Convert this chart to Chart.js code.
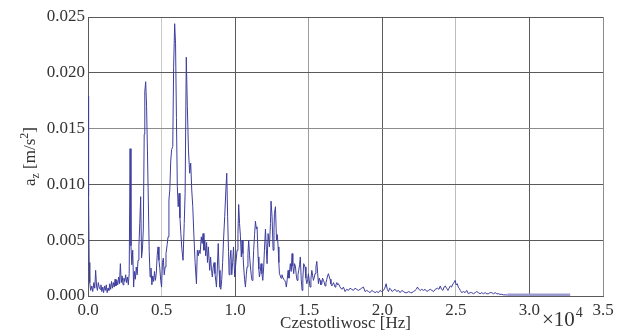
<!DOCTYPE html>
<html>
<head>
<meta charset="utf-8">
<script src="https://cdn.jsdelivr.net/npm/chart.js@4/dist/chart.umd.min.js"></script>
<style>
	html, body { margin: 0; padding: 0; background: #fff; }
	canvas { display: block; }
</style>
</head>
<body>
<canvas id="spectrum" width="624" height="336"></canvas>
<script>
// Acceleration spectrum a_z vs frequency (x in units of 10^4 Hz)

const xTicks = [0, 0.5, 1.0, 1.5, 2.0, 2.5, 3.0, 3.5];
const yTicks = [0, 0.005, 0.010, 0.015, 0.020, 0.025];
const xTitle = 'Czestotliwosc [Hz]';
const xMultiplier = ['×10', '4'];
const bandStart = 2.84; // above this the trace is a dense, flat band

// [frequency (×10^4 Hz), a_z (m/s^2)]
const spectrum = [
	[0.000, 0.0179], [0.004, 0.0090], [0.008, 0.0030], [0.012, 0.0012], [0.018, 0.0005],
	[0.026, 0.0009], [0.032, 0.0004], [0.040, 0.0012], [0.046, 0.0007], [0.052, 0.0023],
	[0.058, 0.0009], [0.064, 0.0005], [0.070, 0.0012], [0.076, 0.0008], [0.082, 0.0006],
	[0.088, 0.0010], [0.094, 0.0004], [0.100, 0.0008], [0.106, 0.0003], [0.112, 0.0009],
	[0.118, 0.0005], [0.124, 0.0010], [0.130, 0.0003], [0.136, 0.0007], [0.142, 0.0005],
	[0.148, 0.0011], [0.154, 0.0006], [0.160, 0.0013], [0.166, 0.0007], [0.172, 0.0012],
	[0.178, 0.0008], [0.184, 0.0015], [0.190, 0.0009], [0.196, 0.0014], [0.202, 0.0010],
	[0.208, 0.0017], [0.214, 0.0011], [0.220, 0.0029], [0.226, 0.0012], [0.232, 0.0018],
	[0.238, 0.0010], [0.244, 0.0016], [0.250, 0.0013], [0.256, 0.0019], [0.262, 0.0012],
	[0.268, 0.0017], [0.274, 0.0010], [0.280, 0.0020], [0.286, 0.0132], [0.292, 0.0045],
	[0.298, 0.0028], [0.304, 0.0041], [0.310, 0.0008], [0.316, 0.0022], [0.322, 0.0015],
	[0.328, 0.0026], [0.334, 0.0019], [0.340, 0.0032], [0.346, 0.0045], [0.352, 0.0065],
	[0.358, 0.0089], [0.364, 0.0034], [0.370, 0.0042], [0.376, 0.0060], [0.382, 0.0145],
	[0.386, 0.0183], [0.392, 0.0192], [0.398, 0.0170], [0.404, 0.0130], [0.410, 0.0085],
	[0.416, 0.0040], [0.422, 0.0017], [0.428, 0.0025], [0.434, 0.0010], [0.440, 0.0018],
	[0.446, 0.0013], [0.452, 0.0022], [0.458, 0.0014], [0.464, 0.0020], [0.470, 0.0036],
	[0.476, 0.0044], [0.482, 0.0032], [0.488, 0.0025], [0.494, 0.0014], [0.500, 0.0008],
	[0.506, 0.0030], [0.512, 0.0034], [0.518, 0.0019], [0.524, 0.0026], [0.530, 0.0038],
	[0.538, 0.0046], [0.544, 0.0053], [0.550, 0.0086], [0.556, 0.0095], [0.562, 0.0120],
	[0.568, 0.0131], [0.576, 0.0134], [0.582, 0.0205], [0.589, 0.0244], [0.595, 0.0226],
	[0.601, 0.0160], [0.607, 0.0098], [0.613, 0.0080], [0.619, 0.0092], [0.625, 0.0070],
	[0.631, 0.0056], [0.638, 0.0042], [0.646, 0.0032], [0.654, 0.0065], [0.660, 0.0092],
	[0.668, 0.0214], [0.675, 0.0170], [0.683, 0.0130], [0.691, 0.0110], [0.698, 0.0119],
	[0.705, 0.0095], [0.712, 0.0080], [0.720, 0.0053], [0.728, 0.0030], [0.737, 0.0011],
	[0.743, 0.0041], [0.749, 0.0036], [0.755, 0.0041], [0.762, 0.0038], [0.770, 0.0053],
	[0.776, 0.0047], [0.782, 0.0056], [0.788, 0.0041], [0.794, 0.0050], [0.800, 0.0036],
	[0.806, 0.0048], [0.812, 0.0030], [0.818, 0.0044], [0.827, 0.0023], [0.833, 0.0035],
	[0.839, 0.0024], [0.845, 0.0017], [0.851, 0.0026], [0.857, 0.0030], [0.863, 0.0020],
	[0.869, 0.0013], [0.873, 0.0008], [0.879, 0.0025], [0.885, 0.0047], [0.891, 0.0023],
	[0.897, 0.0008], [0.903, 0.0006], [0.909, 0.0015], [0.915, 0.0030], [0.921, 0.0050],
	[0.929, 0.0071], [0.937, 0.0095], [0.943, 0.0110], [0.949, 0.0071], [0.955, 0.0040],
	[0.959, 0.0019], [0.965, 0.0032], [0.971, 0.0041], [0.977, 0.0019], [0.983, 0.0030],
	[0.989, 0.0044], [0.997, 0.0017], [1.005, 0.0030], [1.013, 0.0041], [1.019, 0.0055],
	[1.024, 0.0082], [1.030, 0.0065], [1.036, 0.0053], [1.042, 0.0035], [1.047, 0.0050],
	[1.053, 0.0038], [1.058, 0.0026], [1.064, 0.0015], [1.070, 0.0008], [1.076, 0.0019],
	[1.081, 0.0026], [1.087, 0.0038], [1.092, 0.0050], [1.098, 0.0036], [1.104, 0.0026],
	[1.110, 0.0018], [1.115, 0.0014], [1.121, 0.0026], [1.126, 0.0041], [1.132, 0.0055],
	[1.138, 0.0067], [1.144, 0.0060], [1.149, 0.0062], [1.156, 0.0035], [1.161, 0.0024],
	[1.165, 0.0017], [1.171, 0.0022], [1.176, 0.0029], [1.182, 0.0020], [1.188, 0.0014],
	[1.194, 0.0026], [1.199, 0.0041], [1.206, 0.0060], [1.212, 0.0042], [1.217, 0.0029],
	[1.224, 0.0056], [1.233, 0.0044], [1.240, 0.0065], [1.244, 0.0085], [1.251, 0.0071],
	[1.258, 0.0041], [1.264, 0.0060], [1.267, 0.0074], [1.274, 0.0080], [1.281, 0.0050],
	[1.287, 0.0055], [1.292, 0.0044], [1.297, 0.0030], [1.301, 0.0020], [1.307, 0.0018],
	[1.312, 0.0016], [1.318, 0.0019], [1.323, 0.0017], [1.330, 0.0015], [1.337, 0.0014],
	[1.343, 0.0012], [1.348, 0.0008], [1.354, 0.0015], [1.360, 0.0023], [1.366, 0.0016],
	[1.375, 0.0029], [1.381, 0.0022], [1.387, 0.0038], [1.392, 0.0027], [1.398, 0.0020],
	[1.404, 0.0029], [1.410, 0.0026], [1.416, 0.0018], [1.421, 0.0014], [1.427, 0.0019],
	[1.432, 0.0023], [1.438, 0.0028], [1.443, 0.0035], [1.449, 0.0015], [1.455, 0.0005],
	[1.460, 0.0016], [1.466, 0.0029], [1.475, 0.0026], [1.481, 0.0016], [1.487, 0.0011],
	[1.493, 0.0015], [1.498, 0.0020], [1.509, 0.0008], [1.515, 0.0015], [1.521, 0.0023],
	[1.527, 0.0018], [1.532, 0.0014], [1.538, 0.0017], [1.543, 0.0020], [1.549, 0.0026],
	[1.555, 0.0031], [1.561, 0.0020], [1.566, 0.0011], [1.572, 0.0016], [1.577, 0.0014],
	[1.583, 0.0010], [1.589, 0.0011], [1.594, 0.0016], [1.600, 0.0014], [1.606, 0.0012],
	[1.611, 0.0009], [1.617, 0.0012], [1.623, 0.0015], [1.628, 0.0018], [1.634, 0.0020],
	[1.640, 0.0017], [1.645, 0.0015], [1.651, 0.0011], [1.657, 0.0009], [1.662, 0.0010],
	[1.668, 0.0012], [1.674, 0.0010], [1.679, 0.0008], [1.685, 0.0010], [1.691, 0.0012],
	[1.697, 0.0010], [1.702, 0.0011], [1.713, 0.0008], [1.725, 0.0006], [1.736, 0.0008],
	[1.747, 0.0004], [1.758, 0.0006], [1.770, 0.0005], [1.781, 0.0007], [1.792, 0.0006],
	[1.804, 0.0005], [1.815, 0.0007], [1.826, 0.0006], [1.838, 0.0005], [1.849, 0.0006],
	[1.860, 0.0007], [1.872, 0.0008], [1.883, 0.0004], [1.894, 0.0005], [1.906, 0.0004],
	[1.917, 0.0003], [1.928, 0.0005], [1.940, 0.0004], [1.951, 0.0003], [1.962, 0.0004],
	[1.974, 0.0003], [1.985, 0.0005], [1.996, 0.0004], [2.008, 0.0005], [2.017, 0.0007],
	[2.026, 0.0011], [2.034, 0.0006], [2.042, 0.0004], [2.050, 0.0007], [2.058, 0.0006],
	[2.067, 0.0004], [2.076, 0.0005], [2.087, 0.0006], [2.098, 0.0004], [2.110, 0.0005],
	[2.121, 0.0003], [2.133, 0.0005], [2.144, 0.0004], [2.155, 0.0003], [2.167, 0.0003],
	[2.180, 0.0004], [2.192, 0.0003], [2.201, 0.0003], [2.212, 0.0004], [2.223, 0.0005],
	[2.231, 0.0006], [2.239, 0.0008], [2.248, 0.0006], [2.258, 0.0005], [2.268, 0.0006],
	[2.280, 0.0005], [2.291, 0.0006], [2.303, 0.0004], [2.314, 0.0005], [2.326, 0.0006],
	[2.337, 0.0005], [2.349, 0.0004], [2.360, 0.0006], [2.376, 0.0007], [2.385, 0.0006],
	[2.394, 0.0009], [2.403, 0.0006], [2.412, 0.0005], [2.420, 0.0008], [2.428, 0.0009],
	[2.437, 0.0007], [2.446, 0.0005], [2.454, 0.0007], [2.462, 0.0009], [2.471, 0.0008],
	[2.480, 0.0011], [2.488, 0.0012], [2.495, 0.0014], [2.502, 0.0010], [2.510, 0.0011],
	[2.516, 0.0008], [2.522, 0.0007], [2.530, 0.0005], [2.540, 0.0003], [2.551, 0.0004],
	[2.563, 0.0003], [2.574, 0.0005], [2.585, 0.0002], [2.597, 0.0003], [2.608, 0.0003],
	[2.620, 0.0002], [2.631, 0.0003], [2.642, 0.0004], [2.653, 0.0003], [2.665, 0.0002],
	[2.676, 0.0003], [2.688, 0.0002], [2.699, 0.0003], [2.710, 0.0002], [2.721, 0.0002],
	[2.733, 0.0003], [2.744, 0.0003], [2.756, 0.0002], [2.767, 0.0003], [2.778, 0.0002],
	[2.789, 0.0002], [2.800, 0.00015], [2.812, 0.00015], [2.823, 0.0001], [2.835, 0.0001],
	[2.850, 0.00009], [2.900, 0.00008], [2.950, 0.00009], [3.000, 0.00008], [3.050, 0.00009],
	[3.100, 0.00008], [3.150, 0.00008], [3.200, 0.00009], [3.277, 0.00008]
];

const COLORS = {
	line: '#3d3d9e',
	band: '#9a9ad0',
	text: '#333333',
	dark: '#5a5a5a',
	xGrid: ['#5a5a5a', '#c8c8c8', '#5a5a5a', '#9c9c9c', '#5a5a5a', '#bdbdbd', '#5a5a5a', '#8c8c8c'],
	yGrid: ['#5a5a5a', '#5a5a5a', '#5a5a5a', '#8c8c8c', '#5a5a5a', '#5a5a5a']
};
const FONT = '"Liberation Serif", "DejaVu Serif", serif';

// titles with sub/superscripts are drawn by hand
const axisTitles = {
	id: 'axisTitles',
	afterDraw(chart) {
		const { ctx, chartArea: a } = chart;
		ctx.save();
		ctx.fillStyle = COLORS.text;
		ctx.textBaseline = 'alphabetic';

		ctx.font = `17px ${FONT}`;
		ctx.textAlign = 'center';
		ctx.fillText(xTitle, (a.left + a.right) / 2, 328);

		ctx.textAlign = 'left';
		ctx.font = `21px ${FONT}`;
		ctx.fillText(xMultiplier[0], 542, 326);
		const w = ctx.measureText(xMultiplier[0]).width;
		ctx.font = `14px ${FONT}`;
		ctx.fillText(xMultiplier[1], 542 + w + 1, 317);

		// y title: a_z [m/s^2], rotated
		const parts = [
			['a', 17, 0], ['z', 12, 4], [' [m/s', 17, 0], ['2', 12, -7], [']', 17, 0]
		];
		let total = 0;
		parts.forEach(([t, s]) => { ctx.font = `${s}px ${FONT}`; total += ctx.measureText(t).width; });
		ctx.translate(35, (a.top + a.bottom) / 2);
		ctx.rotate(-Math.PI / 2);
		let x = -total / 2;
		parts.forEach(([t, s, dy]) => {
			ctx.font = `${s}px ${FONT}`;
			ctx.fillText(t, x, dy);
			x += ctx.measureText(t).width;
		});
		ctx.restore();
	}
};

const inBand = (c) => c.p0.parsed.x >= bandStart;

new Chart(document.getElementById('spectrum').getContext('2d'), {
	type: 'line',
	data: {
		datasets: [{
			data: spectrum.map(([f, a]) => ({ x: f, y: a })),
			borderColor: COLORS.line,
			borderWidth: 1,
			pointRadius: 0,
			tension: 0,
			fill: false,
			segment: {
				borderWidth: (c) => inBand(c) ? 3 : 1,
				borderColor: (c) => inBand(c) ? COLORS.band : COLORS.line
			}
		}]
	},
	options: {
		responsive: false,
		animation: false,
		events: [],
		layout: { padding: { top: 17, right: 21, left: 0, bottom: 0 } },
		plugins: { legend: { display: false }, tooltip: { enabled: false } },
		scales: {
			x: {
				type: 'linear',
				min: xTicks[0],
				max: xTicks[xTicks.length - 1],
				afterFit: (s) => { s.height = 40; },
				afterBuildTicks: (s) => { s.ticks = xTicks.map(v => ({ value: v })); },
				border: { color: COLORS.dark, width: 1 },
				grid: {
					color: (c) => COLORS.xGrid[c.index] || COLORS.dark,
					lineWidth: 1,
					drawTicks: false
				},
				ticks: {
					color: COLORS.text,
					font: { family: FONT, size: 17 },
					padding: 4,
					maxRotation: 0,
					callback: (v) => Number(v).toFixed(1)
				}
			},
			y: {
				min: yTicks[0],
				max: yTicks[yTicks.length - 1],
				afterFit: (s) => { s.width = 88; },
				afterBuildTicks: (s) => { s.ticks = yTicks.map(v => ({ value: v })); },
				border: { color: COLORS.dark, width: 1 },
				grid: {
					color: (c) => COLORS.yGrid[c.index] || COLORS.dark,
					lineWidth: 1,
					drawTicks: false
				},
				ticks: {
					color: COLORS.text,
					font: { family: FONT, size: 17 },
					padding: 3,
					callback: (v) => Number(v).toFixed(3)
				}
			}
		}
	},
	plugins: [axisTitles]
});
</script>
</body>
</html>
